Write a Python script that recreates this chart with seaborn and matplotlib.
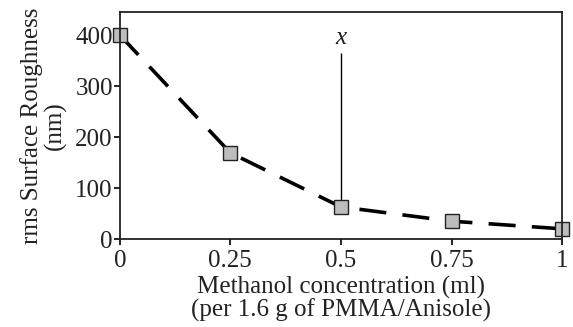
import matplotlib
matplotlib.use("Agg")
import matplotlib.pyplot as plt
import pandas as pd
import seaborn as sns

# Methanol concentration (ml per 1.6 g PMMA/Anisole) vs rms roughness (nm)
methanol_ml = [0, 0.25, 0.5, 0.75, 1.0]
roughness_nm = [400, 169, 63, 35, 20]

# marker line for the "x" label
marker_x = 0.5
marker_top = 365
marker_label_y = 372

x_ticks = [0, 0.25, 0.5, 0.75, 1]
x_tick_labels = ["0", "0.25", "0.5", "0.75", "1"]
y_ticks = [0, 100, 200, 300, 400]

df = pd.DataFrame({"methanol": methanol_ml, "roughness": roughness_nm})

sns.set_theme(style="white")
plt.rcParams["font.family"] = ["Liberation Serif", "DejaVu Serif"]

fig, ax = plt.subplots(figsize=(5.73, 3.27), dpi=100)
fig.subplots_adjust(left=0.209, right=0.981, bottom=0.269, top=0.963)

sns.lineplot(data=df, x="methanol", y="roughness", ax=ax,
             color="black", linewidth=2.6, dashes=False,
             marker="s", markersize=10.5, markerfacecolor="#bdbdbd",
             markeredgecolor="#222222", markeredgewidth=1.0, clip_on=False)
ax.lines[0].set_dashes([7.5, 4.5])

mark_y = roughness_nm[methanol_ml.index(marker_x)]
ax.vlines(marker_x, mark_y, marker_top, color="black", linewidth=1.0, zorder=1)
ax.text(marker_x, marker_label_y, "x", ha="center", va="bottom",
        fontsize=18, fontstyle="italic", color="#222222")

ax.set_xlim(0, 1)
ax.set_ylim(0, 445)
ax.set_xticks(x_ticks)
ax.set_xticklabels(x_tick_labels)
ax.set_yticks(y_ticks)
ax.tick_params(axis="both", direction="out", length=4, width=1.2,
               labelsize=18, pad=1, color="black", labelcolor="#222222")
ax.tick_params(axis="x", bottom=True, pad=4)
ax.tick_params(axis="y", left=True)

for s in ax.spines.values():
    s.set_color("#222222")
    s.set_linewidth(1.3)

ax.set_xlabel("Methanol concentration (ml)\n(per 1.6 g of PMMA/Anisole)",
              fontsize=18, color="#222222", linespacing=0.95, labelpad=3)
ax.set_ylabel("rms Surface Roughness\n(nm)", fontsize=18, color="#222222",
              linespacing=1.05, labelpad=6)

fig.savefig("out.png", dpi=100)
